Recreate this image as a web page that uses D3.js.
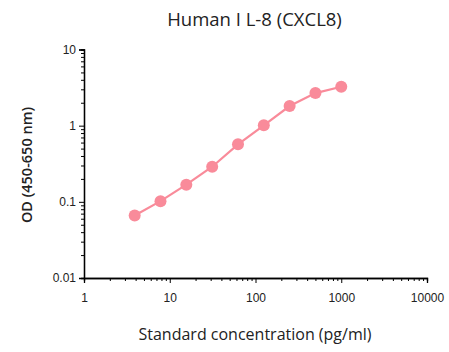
<html>
<head>
<style>
  body { margin: 0; background: #fff; }
  text { fill: #222; }
</style>
<script src="https://cdn.jsdelivr.net/npm/d3@7"></script>
</head>
<body>
<svg id="chart" width="449" height="352"></svg>
<script>
// standard curve data
var conc = [3.9, 7.8, 15.6, 31.25, 62.5, 125, 250, 500, 1000];
var od = [0.066, 0.102, 0.168, 0.289, 0.569, 1.01, 1.81, 2.68, 3.24];
var xTicks = [1, 10, 100, 1000, 10000];
var yTicks = [0.01, 0.1, 1, 10];

var svg = d3.select("#chart");
var plotLeft = 84, plotRight = 427, plotTop = 49.5, plotBottom = 278;

var x = d3.scaleLog().domain([1, 10000]).range([plotLeft, plotRight]);
var y = d3.scaleLog().domain([0.01, 10]).range([plotBottom, plotTop]);

// minor ticks
function minors(dom) {
  var out = [];
  for (var d = dom[0]; d < dom[1]; d *= 10)
    for (var k = 2; k <= 9; k++) out.push(d * k);
  return out;
}

var xAxis = svg.append("g").attr("transform", "translate(0," + plotBottom + ")");
xAxis.call(d3.axisBottom(x).tickValues(minors([1, 10000])).tickSize(3).tickFormat(""));
xAxis.append("g").call(d3.axisBottom(x).tickValues(xTicks).tickSize(5).tickFormat(d3.format("d")));

var yAxis = svg.append("g").attr("transform", "translate(" + plotLeft + ",0)");
yAxis.call(d3.axisLeft(y).tickValues(minors([0.01, 10])).tickSize(3).tickFormat(""));
yAxis.append("g").call(d3.axisLeft(y).tickValues(yTicks).tickSize(5).tickFormat(function (d) { return String(d); }));

svg.selectAll(".domain").attr("stroke", "#000").attr("stroke-width", 1.3);
svg.selectAll(".tick line").attr("stroke", "#000");
svg.selectAll(".tick text")
  .attr("font-family", "Liberation Sans, Arial, sans-serif")
  .attr("font-size", 12)
  .attr("fill", "#333");
xAxis.selectAll(".tick text").attr("dy", "1.3em");

// line + points
var pts = conc.map(function (c, i) { return [c, od[i]]; });
svg.append("path")
  .datum(pts)
  .attr("fill", "none")
  .attr("stroke", "#f98b9a")
  .attr("stroke-width", 2.2)
  .attr("d", d3.line().x(function (d) { return x(d[0]); }).y(function (d) { return y(d[1]); }));

svg.selectAll("circle.pt")
  .data(pts)
  .enter()
  .append("circle")
  .attr("class", "pt")
  .attr("cx", function (d) { return x(d[0]); })
  .attr("cy", function (d) { return y(d[1]); })
  .attr("r", 6)
  .attr("fill", "#f98b9a");

// labels
svg.append("text")
  .attr("x", 254.5).attr("y", 25.5)
  .attr("text-anchor", "middle")
  .attr("font-family", "Open Sans, Noto Sans, sans-serif")
  .attr("font-size", 18.5)
  .text("Human I L-8 (CXCL8)");

svg.append("text")
  .attr("x", 255).attr("y", 340)
  .attr("text-anchor", "middle")
  .attr("font-family", "Open Sans, Noto Sans, sans-serif")
  .attr("font-size", 16)
  .text("Standard concentration (pg/ml)");

svg.append("text")
  .attr("transform", "translate(32,165) rotate(-90)")
  .attr("text-anchor", "middle")
  .attr("font-family", "Open Sans, Noto Sans, sans-serif")
  .attr("font-weight", 600)
  .attr("font-size", 14.5)
  .attr("fill", "#000")
  .text("OD (450-650 nm)");
</script>
</body>
</html>
